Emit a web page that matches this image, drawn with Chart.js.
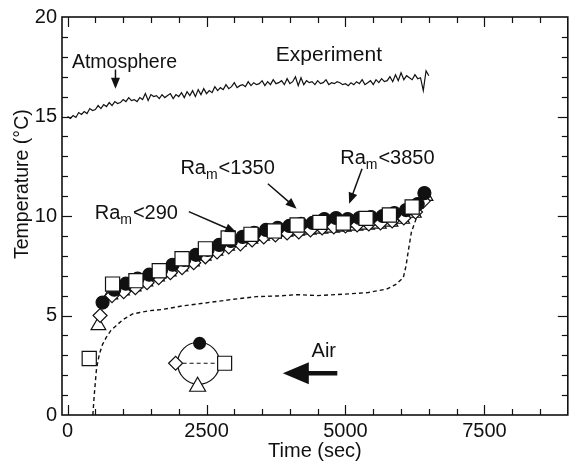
<!DOCTYPE html>
<html><head><meta charset="utf-8">
<script src="https://cdn.jsdelivr.net/npm/chart.js@4"></script>
<style>html,body{margin:0;background:#fff}</style>
</head><body>
<canvas id="c" width="579" height="468"></canvas>
<script>
// Temperature vs time, experiment markers + atmosphere trace.
const INK = '#111';
const FONT = '"Liberation Sans", Arial, sans-serif';

const xTickLabels = [0, 2500, 5000, 7500];
const yTickLabels = [0, 5, 10, 15, 20];

// atmosphere (noisy trace), one reading every 50 s
const atmTime = [
  0, 50, 100, 150, 200, 250, 300, 350, 400, 450,
  500, 550, 600, 650, 700, 750, 800, 850, 900, 950,
  1000, 1050, 1100, 1150, 1200, 1250, 1300, 1350, 1400, 1450,
  1500, 1550, 1600, 1650, 1700, 1750, 1800, 1850, 1900, 1950,
  2000, 2050, 2100, 2150, 2200, 2250, 2300, 2350, 2400, 2450,
  2500, 2550, 2600, 2650, 2700, 2750, 2800, 2850, 2900, 2950,
  3000, 3050, 3100, 3150, 3200, 3250, 3300, 3350, 3400, 3450,
  3500, 3550, 3600, 3650, 3700, 3750, 3800, 3850, 3900, 3950,
  4000, 4050, 4100, 4150, 4200, 4250, 4300, 4350, 4400, 4450,
  4500, 4550, 4600, 4650, 4700, 4750, 4800, 4850, 4900, 4950,
  5000, 5050, 5100, 5150, 5200, 5250, 5300, 5350, 5400, 5450,
  5500, 5550, 5600, 5650, 5700, 5750, 5800, 5850, 5900, 5950,
  6000, 6050, 6100, 6150, 6200, 6250, 6300, 6350, 6400, 6450,
  6500];
const atmTemp = [
  15.0, 14.9, 15.05, 14.95, 15.2, 15.1, 15.25, 15.15, 15.4, 15.3,
  15.35, 15.55, 15.4, 15.6, 15.5, 15.7, 15.55, 15.75, 15.65, 15.7,
  15.85, 15.75, 15.95, 15.8, 15.85, 15.75, 15.95, 15.85, 16.15, 15.8,
  16.1, 16.0, 16.05, 15.9, 16.1, 15.95, 16.05, 16.15, 15.9, 16.1,
  16.0, 16.2, 15.95, 16.25, 16.05, 16.3, 16.0, 16.35, 16.1, 16.4,
  16.15, 16.3, 16.2, 16.5, 16.3, 16.45, 16.35, 16.6, 16.4, 16.5,
  16.7, 16.45, 16.55, 16.6, 16.5, 16.75, 16.55, 16.7, 16.6, 16.65,
  16.8, 16.55, 16.75, 16.6, 16.85, 16.65, 16.7, 16.8, 16.6, 16.9,
  16.65, 16.75, 17.0, 16.55, 16.95, 16.6, 16.8, 16.7, 16.75, 16.6,
  16.8, 16.65, 16.7, 16.85, 16.6, 16.7, 16.65, 16.75, 16.7, 16.6,
  16.65, 16.55, 16.7, 16.6, 16.75, 16.65, 16.85, 16.6, 16.7, 16.8,
  16.6, 16.85, 16.7, 16.9, 16.75, 16.8, 17.0, 16.75, 17.1, 16.8,
  17.2, 16.85, 17.05, 16.95, 16.85, 17.1, 16.9, 16.95, 16.3, 17.3,
  17.05];

// dashed trace
const dashTime = [455, 480, 518, 545, 577, 630, 696, 780, 874, 1000, 1170, 1300, 1470, 1700, 2060, 2400, 2940, 3400, 3780, 4130,
  4500, 4960, 5400, 5740, 5900, 6040, 6090, 6128, 6187, 6277, 6310];
const dashTemp = [0, 1.0, 2.24, 2.7, 3.1, 3.55, 3.9, 4.25, 4.49, 4.8, 5.08, 5.15, 5.24, 5.3, 5.48, 5.6, 5.8, 5.95, 5.98, 6.05,
  6.0, 6.07, 6.15, 6.33, 6.55, 6.9, 7.5, 8.2, 9.2, 9.9, 10.3];

// markers
const sqTime = [390, 810, 1230, 1650, 2060, 2480, 2890, 3300, 3720, 4130, 4540, 4960, 5370, 5790, 6200];
const sqTemp = [2.84, 6.58, 6.75, 7.25, 7.85, 8.35, 8.9, 9.08, 9.25, 9.55, 9.68, 9.65, 9.88, 10.05, 10.45];

const ciTime = [630, 840, 1050, 1260, 1470, 1680, 1890, 2100, 2310, 2520, 2730, 2940, 3150, 3360, 3570, 3780, 3990, 4200, 4410,
  4620, 4830, 5040, 5250, 5460, 5670, 5880, 6090, 6300, 6420];
const ciTemp = [5.65, 6.3, 6.6, 6.85, 7.05, 7.25, 7.55, 7.8, 8.05, 8.3, 8.55, 8.75, 8.95, 9.15, 9.3, 9.4, 9.5, 9.6, 9.65,
  9.85, 9.9, 9.85, 9.9, 9.95, 10.0, 10.15, 10.3, 10.6, 11.15];

const diTime = [585, 800, 1010, 1220, 1430, 1640, 1850, 2060, 2270, 2480, 2690, 2900, 3110, 3320, 3530, 3740, 3950, 4160, 4370,
  4580, 4790, 5000, 5210, 5420, 5630, 5840, 6050, 6260, 6400];
const diTemp = [5.0, 6.0, 6.2, 6.4, 6.65, 6.9, 7.15, 7.4, 7.65, 7.95, 8.2, 8.45, 8.6, 8.8, 8.95, 9.05, 9.15, 9.2, 9.3,
  9.4, 9.45, 9.5, 9.55, 9.6, 9.65, 9.75, 9.9, 10.2, 10.75];

const trTime = [555, 770, 980, 1190, 1400, 1610, 1820, 2030, 2240, 2450, 2660, 2870, 3080, 3290, 3500, 3710, 3920, 4130, 4340,
  4550, 4760, 4970, 5180, 5390, 5600, 5810, 6020, 6230, 6440];
const trTemp = [4.5, 6.05, 6.25, 6.45, 6.7, 6.95, 7.2, 7.45, 7.7, 8.0, 8.25, 8.5, 8.7, 8.85, 9.0, 9.1, 9.2, 9.25, 9.3,
  9.35, 9.4, 9.45, 9.5, 9.55, 9.6, 9.7, 9.85, 10.15, 11.0];

const pts = (xs, ys) => xs.map((x, i) => ({ x, y: ys[i] }));
const mk = (data, style, r, fill) => ({ data, showLine: false, pointStyle: style, pointRadius: r, pointBorderWidth: 1.2,
  pointBackgroundColor: fill, pointBorderColor: INK });
const trace = (data, dash) => ({ data, showLine: true, pointRadius: 0, borderColor: INK, borderWidth: dash ? 1.4 : 1.2,
  borderDash: dash ? [4, 3] : [], tension: 0 });

function arrow(ctx, x1, y1, x2, y2, len, half) {
  const a = Math.atan2(y2 - y1, x2 - x1);
  ctx.beginPath(); ctx.moveTo(x1, y1); ctx.lineTo(x2 - Math.cos(a) * len * 0.8, y2 - Math.sin(a) * len * 0.8); ctx.stroke();
  ctx.beginPath(); ctx.moveTo(x2, y2);
  ctx.lineTo(x2 - Math.cos(a) * len - Math.sin(a) * half, y2 - Math.sin(a) * len + Math.cos(a) * half);
  ctx.lineTo(x2 - Math.cos(a) * len + Math.sin(a) * half, y2 - Math.sin(a) * len - Math.cos(a) * half);
  ctx.closePath(); ctx.fill();
}

// text labels placed in data units: [text, subscript, rest, x, y, size]
const notes = [
  ['Atmosphere', '', '', 78, 17.46, 19.5],
  ['Experiment', '', '', 3747, 17.8, 21],
  ['Ra', 'm', '<290', 488, 9.83, 20],
  ['Ra', 'm', '<1350', 2030, 12.1, 20],
  ['Ra', 'm', '<3850', 4905, 12.62, 20],
  ['Air', '', '', 4390, 2.9, 20],
];
// arrows in data units: [x1, y1, x2, y2]
const arrows = [[862, 17.36, 862, 16.4], [2181, 10.22, 3035, 9.18], [3604, 11.62, 4121, 10.37], [5298, 12.37, 5066, 10.62]];

const decor = {
  id: 'decor',
  afterDatasetsDraw(chart) {
    const { ctx, chartArea: a, scales: { x, y } } = chart;
    const X = (v) => x.getPixelForValue(v), Y = (v) => y.getPixelForValue(v);
    ctx.save();
    ctx.strokeStyle = INK; ctx.fillStyle = INK; ctx.lineWidth = 1.2;
    const seg = (x1, y1, x2, y2) => { ctx.beginPath(); ctx.moveTo(x1, y1); ctx.lineTo(x2, y2); ctx.stroke(); };
    for (let v = 0; v < 9000; v += 500) {
      const p = Math.round(X(v)) + 0.5, l = v % 2500 === 0 ? 10 : 6;
      seg(p, a.bottom, p, a.bottom - l); seg(p, a.top, p, a.top + l);
    }
    for (let v = 1; v < 20; v++) {
      const p = Math.round(Y(v)) + 0.5, l = v % 5 === 0 ? 10 : 6;
      seg(a.left, p, a.left + l, p); seg(a.right, p, a.right - l, p);
    }
    ctx.lineWidth = 1.6;
    ctx.strokeRect(a.left, a.top, a.right - a.left, a.bottom - a.top);

    // y title, sits above the plot centre in the original
    ctx.save();
    ctx.translate(23, Y(11.6)); ctx.rotate(-Math.PI / 2);
    ctx.font = `19.5px ${FONT}`; ctx.textAlign = 'center'; ctx.textBaseline = 'middle';
    ctx.fillText('Temperature (°C)', 0, 0);
    ctx.restore();

    // annotations
    ctx.textBaseline = 'alphabetic'; ctx.textAlign = 'left';
    for (const [t, sub, rest, vx, vy, size] of notes) {
      let px = X(vx); const py = Y(vy);
      ctx.font = `${size}px ${FONT}`; ctx.fillText(t, px, py); px += ctx.measureText(t).width;
      if (sub) { ctx.font = `${Math.round(size * 0.68)}px ${FONT}`; ctx.fillText(sub, px, py + 5); px += ctx.measureText(sub).width + 1; }
      if (rest) { ctx.font = `${size}px ${FONT}`; ctx.fillText(rest, px, py); }
    }
    ctx.lineWidth = 1.5;
    for (const [x1, y1, x2, y2] of arrows) arrow(ctx, X(x1), Y(y1), X(x2), Y(y2), 11, 4.5);
    // air arrow
    ctx.lineWidth = 4.5;
    arrow(ctx, X(4853), Y(2.1), X(3873), Y(2.1), 26, 11);

    // probe sketch
    const cx = X(2358), cy = Y(2.6);
    ctx.lineWidth = 1.2;
    ctx.beginPath(); ctx.arc(cx, cy, 21, 0, Math.PI * 2); ctx.stroke();
    ctx.setLineDash([4, 3]); seg(cx - 16, cy, cx + 19, cy); ctx.setLineDash([]);
    ctx.beginPath(); ctx.arc(cx + 1, cy - 20, 6.5, 0, Math.PI * 2); ctx.fill();
    ctx.fillStyle = '#fff';
    ctx.beginPath(); ctx.rect(cx + 19, cy - 7, 14, 14); ctx.fill(); ctx.stroke();
    ctx.beginPath(); ctx.moveTo(cx - 30, cy); ctx.lineTo(cx - 23, cy - 7); ctx.lineTo(cx - 16, cy); ctx.lineTo(cx - 23, cy + 7); ctx.closePath(); ctx.fill(); ctx.stroke();
    ctx.beginPath(); ctx.moveTo(cx - 1, cy + 14); ctx.lineTo(cx + 7, cy + 28); ctx.lineTo(cx - 9, cy + 28); ctx.closePath(); ctx.fill(); ctx.stroke();
    ctx.restore();
  }
};

new Chart(document.getElementById('c'), {
  type: 'scatter',
  data: {
    datasets: [
      mk(pts(sqTime, sqTemp), 'rect', 10, '#fff'),
      mk(pts(ciTime, ciTemp), 'circle', 6.5, INK),
      mk(pts(diTime, diTemp), 'rectRot', 7, '#fff'),
      mk(pts(trTime, trTemp), 'triangle', 8.5, '#fff'),
      trace(pts(dashTime, dashTemp), true),
      trace(pts(atmTime, atmTemp), false),
    ],
  },
  options: {
    responsive: false, animation: false,
    layout: { padding: { top: 14, right: 6, left: 0, bottom: 0 } },
    plugins: { legend: { display: false }, tooltip: { enabled: false } },
    scales: {
      x: {
        type: 'linear', min: -100, max: 9000,
        afterBuildTicks: (s) => { s.ticks = xTickLabels.map((v) => ({ value: v })); },
        afterFit: (s) => { s.height = 53; },
        grid: { display: false, drawTicks: false }, border: { display: false },
        ticks: { color: INK, padding: 4, font: { family: FONT, size: 20 }, callback: (v) => String(v) },
        title: { display: true, text: 'Time (sec)', color: INK, padding: { top: 0, bottom: 5 }, font: { family: FONT, size: 20 } },
      },
      y: {
        min: 0, max: 20,
        afterBuildTicks: (s) => { s.ticks = yTickLabels.map((v) => ({ value: v })); },
        afterFit: (s) => { s.width = 62; },
        grid: { display: false, drawTicks: false }, border: { display: false },
        ticks: { color: INK, padding: 5, font: { family: FONT, size: 20 }, callback: (v) => String(v) },
      },
    },
  },
  plugins: [decor],
});
</script>
</body></html>
